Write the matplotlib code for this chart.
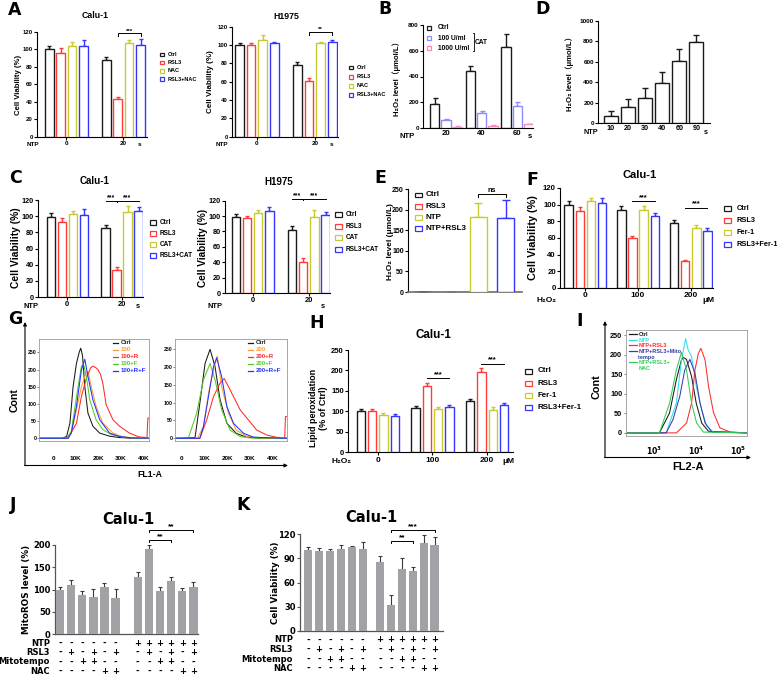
import numpy as np
import matplotlib
matplotlib.use('Agg')
import matplotlib.pyplot as plt
from matplotlib.patches import Rectangle
from matplotlib.transforms import blended_transform_factory

plt.rcParams['font.family'] = ['Liberation Sans', 'DejaVu Sans', 'Noto Sans CJK SC']
plt.rcParams['font.weight'] = 'bold'
plt.rcParams['mathtext.default'] = 'bf'

# ======================= DATA =======================
# Panel A
A_groups = ['0', '20']
A_series = ['Ctrl', 'RSL3', 'NAC', 'RSL3+NAC']
A_calu_mean = [[100, 88], [96, 43], [104, 107], [104, 105]]
A_calu_err = [[4, 3], [5, 2.5], [4, 4], [7, 6.5]]
A_h1975_mean = [[100, 78], [100, 61], [106, 102], [102.5, 103]]
A_h1975_err = [[1.8, 3], [2.5, 2.5], [5, 1.2], [1.1, 3]]
# Panel B
B_groups = ['20', '40', '60']
B_series = ['Ctrl', '100 U/ml', '1000 U/ml']
B_mean = [[188, 446, 632], [59, 116, 173], [10, 18, 28]]
B_err = [[44, 39, 96], [13, 18, 28], [5, 5, 6]]
# Panel D
D_times = ['10', '20', '30', '40', '60', '90']
D_mean = [68, 156, 243, 396, 607, 795]
D_err = [52, 81, 101, 104, 114, 72]
# Panel C
C_groups = ['0', '20']
C_series = ['Ctrl', 'RSL3', 'CAT', 'RSL3+CAT']
C_calu_mean = [[99, 85], [93, 33], [103, 105], [102, 106]]
C_calu_err = [[5, 3.7], [4.5, 4], [4, 7.4], [7.4, 5.4]]
C_h1975_mean = [[99, 82], [97, 40], [104, 99], [107, 101]]
C_h1975_err = [[4, 5], [2.6, 6], [3.4, 8.6], [4.7, 4.3]]
# Panel E
E_series = ['Ctrl', 'RSL3', 'NTP', 'NTP+RSL3']
E_mean = [1, 1, 181, 180]
E_err = [0, 0, 34, 43]
# Panel F
F_groups = ['0', '100', '200']
F_series = ['Ctrl', 'RSL3', 'Fer-1', 'RSL3+Fer-1']
F_mean = [[100, 94, 78], [93, 60, 33], [104, 94, 72], [102.5, 87, 69]]
F_err = [[4, 4.5, 3.4], [4.6, 2.8, 0.8], [4, 4, 3.2], [6, 3, 3.6]]
# Panel H
H_groups = ['0', '100', '200']
H_series = ['Ctrl', 'RSL3', 'Fer-1', 'RSL3+Fer-1']
H_mean = [[100, 108, 125], [101, 163, 197], [90, 106, 103], [88, 110, 116]]
H_err = [[6, 6, 6], [5, 7, 10], [5, 5, 8.6], [5, 5, 4]]
# Panel G (flow cytometry, FL1-A in thousands, counts)
G1_labels = ['Ctrl', '100', '100+R', '100+F', '100+R+F']
G1_x = [
    [-6.2, 4, 5.9, 7.4, 8.8, 10.3, 11.5, 12.2, 13.0, 14.0, 15.4, 17.6, 20.6, 25, 29.4, 35, 42.2],
    [-6.2, 5.9, 8.0, 10.3, 12.5, 14.5, 15.4, 16.9, 19.0, 22.0, 26.5, 30, 35, 42.2],
    [-6.2, 6.6, 10.3, 12.5, 14.7, 16.6, 17.6, 19.0, 19.9, 21.0, 22.0, 23.5, 26.5, 29.4, 33.8, 38.0, 41.6, 42.0, 42.2],
    [-6.2, 5.9, 8, 10.3, 12.5, 13.5, 14.7, 16.2, 19, 22, 26, 32, 42.2],
    [-6.2, 6.6, 8.0, 10.3, 12.5, 14.0, 15.4, 17.6, 20.6, 25, 29.4, 35, 42.2],
]
G1_y = [
    [0, 0, 5, 44, 150, 218, 250, 262, 240, 150, 73, 35, 15, 6, 2, 0, 0],
    [0, 0, 15, 83, 150, 190, 194, 150, 93, 44, 15, 6, 1, 0],
    [0, 0, 44, 122, 175, 205, 210, 205, 199, 185, 160, 97, 54, 35, 15, 4, 2, 59, 59],
    [0, 0, 20, 120, 210, 215, 180, 112, 54, 25, 10, 2, 0],
    [0, 0, 15, 93, 199, 230, 180, 112, 54, 15, 5, 1, 0],
]
G2_labels = ['Ctrl', '200', '200+R', '200+F', '200+R+F']
G2_x = [
    [-2.9, 5.9, 8.0, 10.3, 12.5, 14.7, 16.9, 19.9, 24, 28.5, 35, 46.3],
    [-2.9, 7, 9.6, 11.8, 14.0, 15.7, 17.6, 20.6, 24, 28.5, 35, 46.3],
    [-2.9, 8, 11, 14, 16.9, 18.7, 20.6, 22.8, 25.7, 29.4, 33, 37.5, 43, 45.3, 45.6, 46.3],
    [-2.9, 2.9, 6.6, 9.6, 12.5, 14.7, 17.6, 21.3, 25.7, 30, 46.3],
    [-2.9, 8, 9.6, 11.8, 14.0, 15.4, 17.6, 19.9, 22.8, 27.2, 31.6, 46.3],
]
G2_y = [
    [0, 2, 98, 210, 250, 201, 108, 42, 14, 3, 0, 0],
    [0, 0, 33, 126, 192, 231, 145, 70, 23, 6, 1, 0],
    [0, 0, 51, 117, 155, 168, 145, 117, 80, 51, 23, 9, 1, 1, 61, 61],
    [0, 0, 70, 164, 210, 164, 80, 23, 5, 1, 0],
    [0, 0, 33, 117, 201, 226, 173, 89, 42, 14, 3, 0],
]
# Panel I (FL2-A as log10 intensity, counts)
I_labels = ['Ctrl', 'NTP', 'NTP+RSL3', 'NTP+RSL3+Mito\ntempo', 'NTP+RSL3+\nNAC']
I_logx = [
    [2.34, 3.13, 3.37, 3.53, 3.65, 3.69, 3.77, 3.89, 4.0, 4.13, 4.29, 5.2],
    [2.34, 3.29, 3.53, 3.65, 3.75, 3.81, 3.89, 4.0, 4.13, 4.25, 4.41, 5.2],
    [2.34, 3.53, 3.77, 3.89, 3.97, 4.05, 4.11, 4.21, 4.29, 4.41, 4.56, 4.8, 5.2],
    [2.34, 3.29, 3.45, 3.61, 3.73, 3.85, 3.97, 4.09, 4.21, 4.37, 5.2],
    [2.34, 3.13, 3.37, 3.53, 3.65, 3.77, 3.89, 4.01, 4.17, 5.2],
]
I_y = [
    [0, 0, 51, 136, 186, 193, 188, 144, 76, 25, 4, 0],
    [0, 0, 76, 186, 241, 212, 195, 119, 59, 17, 2, 0],
    [0, 0, 25, 76, 161, 203, 216, 186, 119, 51, 13, 2, 0],
    [0, 0, 34, 93, 161, 188, 153, 76, 25, 2, 0],
    [0, 0, 76, 161, 206, 161, 76, 25, 2, 0],
]
# Panels J, K
J_mean = [100, 110, 88, 84, 105, 82, 128, 191, 98, 120, 98, 105]
J_err = [6, 12, 10, 17, 9, 19, 11, 9, 7, 9, 5, 13]
K_mean = [100, 99, 98.5, 101, 104, 102, 85, 32, 77, 74.5, 109, 107]
K_err = [3.5, 4, 3, 6, 1.5, 8, 8, 12, 13, 5, 10, 9]
row_names = ['NTP', 'RSL3', 'Mitotempo', 'NAC']
NTP_signs = ['-'] * 6 + ['+'] * 6
RSL3_signs = ['-', '+', '-', '+', '-', '+'] * 2
Mito_signs = ['-', '-', '+', '+', '-', '-'] * 2
NAC_signs = ['-', '-', '-', '-', '+', '+'] * 2

# ======================= STYLE =======================
BLK = '#1a1a1a'
RED = '#ff3b3b'
YEL = '#c9c930'
BLU = '#3434ff'
four_cols = [BLK, RED, YEL, BLU]

W, H = 777, 678
fig = plt.figure(figsize=(W / 100, H / 100), dpi=100)
ov = fig.add_axes([0, 0, 1, 1], zorder=20)
ov.set_xlim(0, W)
ov.set_ylim(H, 0)
ov.axis('off')


def pax(x0, yt, x1, yb):
    ax = fig.add_axes([x0 / W, 1 - yb / H, (x1 - x0) / W, (yb - yt) / H])
    ax.patch.set_alpha(0)
    return ax


def bar_panel(rect, means, errs, colors, step, xlim, ylim, yticks, xlabels,
              tfs, xfs, width=0.75, lw=1.0, cap=1.6, axlw=0.8):
    ax = pax(*rect)
    n = len(means[0])
    for s, (m, e, c) in enumerate(zip(means, errs, colors)):
        xs = np.arange(n) * step + s
        ax.bar(xs, m, width=width, facecolor='white', edgecolor=c, linewidth=lw, zorder=3)
        ax.errorbar(xs, m, yerr=[np.zeros(n), e], fmt='none', ecolor=c, elinewidth=lw,
                    capsize=cap, capthick=lw, zorder=2)
    ax.set_xlim(*xlim)
    ax.set_ylim(*ylim)
    ax.spines[['top', 'right']].set_visible(False)
    ax.spines[['left', 'bottom']].set_linewidth(axlw)
    ax.set_yticks(yticks)
    ax.tick_params(axis='y', length=2, width=axlw, labelsize=tfs, pad=1)
    if xlabels is not None:
        centers = np.arange(n) * step + (len(means) - 1) / 2
        ax.set_xticks(centers, xlabels)
        ax.tick_params(axis='x', length=2, width=axlw, labelsize=xfs, pad=1.2)
    else:
        ax.set_xticks([])
    return ax


def sig(ax, x1, x2, y, txt, fs, tick, lw=0.7):
    ax.plot([x1, x1, x2, x2], [y - tick, y, y, y - tick], color='black', lw=lw, clip_on=False)
    ax.text((x1 + x2) / 2, y, txt, ha='center', va='bottom', fontsize=fs, clip_on=False)


def box_legend(x, y0, dy, labels, colors, fs, bw, bh, tx, lw=0.9):
    for i, (lab, c) in enumerate(zip(labels, colors)):
        y = y0 + i * dy
        ov.add_patch(Rectangle((x, y - bh / 2), bw, bh, facecolor='white', edgecolor=c, lw=lw))
        ov.text(tx, y, lab, fontsize=fs, va='center', ha='left')


def otext(x, y, s, fs, rot=0, ha='center', va='center', **kw):
    ov.text(x, y, s, fontsize=fs, rotation=rot, ha=ha, va=va, **kw)


# ---------------- Panel A ----------------
axA1 = bar_panel((37, 31.7, 147, 136.7), A_calu_mean, A_calu_err, four_cols, 5,
                 (-1.08, 8.57), (0, 120), range(0, 121, 20), A_groups, 4.3, 4.6)
sig(axA1, 6, 8, 118, '***', 4.5, 3)
axA2 = bar_panel((232, 26.7, 338, 136.7), A_h1975_mean, A_h1975_err, four_cols, 5,
                 (-0.65, 8.5), (0, 120), range(0, 121, 20), A_groups, 4.3, 4.6)
sig(axA2, 6, 8, 114, '**', 4.5, 3)
otext(95, 15, 'Calu-1', 6.3)
otext(286, 16.5, 'H1975', 6.3)
otext(18.5, 85, 'Cell Viability (%)', 5.6, rot=90)
otext(211, 82, 'Cell Viability (%)', 5.8, rot=90)
otext(33, 144.5, 'NTP', 4.6)
otext(140, 144.5, 's', 4.6)
otext(222, 144.5, 'NTP', 4.6)
otext(331.5, 144.5, 's', 4.6)
box_legend(160, 54.3, 8.3, A_series, four_cols, 4.0, 4.3, 3.6, 168)
box_legend(348.5, 67.7, 9.1, A_series, four_cols, 4.0, 4.3, 3.6, 357)

# ---------------- Panel B ----------------
B_cols = [BLK, '#8c8cff', '#ff86c4']
axB = bar_panel((423, 25, 533, 128), B_mean, B_err, B_cols, 3.2,
                (-1.04, 8.8), (0, 800), range(0, 801, 200), B_groups, 4.5, 5.6,
                width=0.85, cap=1.8)
axB.tick_params(axis='x', length=0)
otext(397, 77, 'H₂O₂ level（μmol/L）', 5.6, rot=90)
otext(407, 136.5, 'NTP', 5.6)
otext(530, 136.5, 's', 5.6)
box_legend(426.5, 27.7, 10.3, B_series, B_cols, 4.8, 4.6, 4.0, 438)
ov.plot([472.5, 473.5, 473.5, 472.5], [32.5, 32.5, 50.5, 50.5], color='black', lw=0.6)
otext(475, 42.3, 'CAT', 4.8, ha='left')

# ---------------- Panel D ----------------
axD = bar_panel((598, 21, 710, 123), [D_mean], [D_err], [BLK], 1,
                (-0.76, 5.8), (0, 1000), range(0, 1001, 200), D_times, 4.6, 5.2,
                width=0.83, cap=2.2)
axD.tick_params(axis='x', length=0)
otext(570, 72, 'H₂O₂ level（μmol/L）', 5.6, rot=90)
otext(591, 132.5, 'NTP', 5.2)
otext(705.5, 132.5, 's', 5.2)

# ---------------- Panel C ----------------
axC1 = bar_panel((38, 200, 143, 297), C_calu_mean, C_calu_err, four_cols, 5,
                 (-1.15, 8.4), (0, 120), range(0, 121, 20), C_groups, 5.2, 5.4)
sig(axC1, 5, 6, 119, '***', 5, 0)
sig(axC1, 6, 8, 119, '***', 5, 0)
axC1.plot([6, 6], [117.5, 119], color='black', lw=0.7, clip_on=False)
axC2 = bar_panel((225, 200.7, 330, 293), C_h1975_mean, C_h1975_err, four_cols, 5,
                 (-0.96, 8.4), (0, 120), range(0, 121, 20), C_groups, 5.2, 5.4)
sig(axC2, 5, 6, 122, '***', 5, 0)
sig(axC2, 6, 8, 122, '***', 5, 0)
axC2.plot([6, 6], [120.5, 122], color='black', lw=0.7, clip_on=False)
otext(95, 181.5, 'Calu-1', 7)
otext(279, 182, 'H1975', 7)
otext(16.5, 248, 'Cell Viability (%)', 7.4, rot=90)
otext(202.5, 248, 'Cell Viability (%)', 7.2, rot=90)
otext(31.5, 306, 'NTP', 5.4)
otext(137.5, 306, 's', 5.4)
otext(215, 306, 'NTP', 5.4)
otext(322.5, 306, 's', 5.4)
box_legend(150, 222.3, 11.2, C_series, four_cols, 4.7, 6, 5, 160)
box_legend(335, 214.3, 11.8, C_series, four_cols, 4.7, 6.5, 5, 346)

# ---------------- Panel E ----------------
axE = bar_panel((408, 189, 522, 292), [[v] for v in E_mean], [[e] for e in E_err],
                four_cols, 1, (-0.55, 3.6), (0, 250), range(0, 251, 50), None, 5.0, 5.0,
                width=0.62, cap=2.6)
axE.spines['bottom'].set_color('#777777')
axE.spines['bottom'].set_linewidth(1.3)
sig(axE, 2, 3, 239, 'ns', 5.2, 8)
otext(390, 242, 'H₂O₂ level (μmol/L)', 6.0, rot=90)
box_legend(415, 195, 11.1, E_series, four_cols, 5.8, 6.6, 4.8, 426)

# ---------------- Panel F ----------------
axF = bar_panel((560, 188, 713, 288), F_mean, F_err, four_cols, 4.75,
                (-0.77, 13.0), (0, 120), range(0, 121, 20), F_groups, 5.6, 6.0)
sig(axF, 5.75, 7.75, 104.5, '***', 5.4, 0)
sig(axF, 10.5, 12.5, 96.5, '***', 5.4, 0)
otext(640, 175, 'Calu-1', 8)
otext(533.5, 238, 'Cell Viability (%)', 7.8, rot=90)
otext(546.5, 300, 'H₂O₂', 6.0)
otext(708.5, 300, 'μM', 6.0)
box_legend(724, 208.3, 12.0, F_series, four_cols, 5.3, 6.6, 5, 736.5)

# ---------------- Panel H ----------------
axH = bar_panel((348, 350, 513, 452.3), H_mean, H_err, four_cols, 4.85,
                (-1.15, 13.5), (0, 250), range(0, 251, 50), H_groups, 5.5, 6.0)
sig(axH, 5.85, 7.85, 182, '***', 5.4, 0)
sig(axH, 10.7, 12.7, 217, '***', 5.4, 0)
otext(433.5, 335, 'Calu-1', 8.4)
otext(313.5, 408, 'Lipid peroxidation', 6.5, rot=90)
otext(323.5, 408, '(% of Ctrl)', 6.5, rot=90)
otext(341.5, 461.5, 'H₂O₂', 6.0)
otext(508.5, 461.5, 'μM', 6.0)
box_legend(525, 371, 12.1, H_series, four_cols, 5.7, 6.6, 5, 538)

# ---------------- Panel G ----------------
G_cols = [BLK, '#ff9a33', '#ff2a2a', '#55cc22', '#2233ff']


def hist_box(rect, xs_list, ys_list, cols, xlim, ylim):
    ax = pax(*rect)
    for xs, ys, c in zip(xs_list, ys_list, cols):
        ax.plot(xs, ys, color=c, lw=0.75)
    ax.set_xlim(*xlim)
    ax.set_ylim(*ylim)
    for s in ax.spines.values():
        s.set_color('#9a9a9a')
        s.set_linewidth(0.6)
    ax.set_yticks(range(0, 251, 50))
    return ax


axG1 = hist_box((39.3, 339.3, 149, 441), G1_x, G1_y, G_cols, (-6.2, 42.5), (-8, 288))
axG2 = hist_box((175, 339.3, 287, 441), G2_x, G2_y, G_cols, (-2.9, 46.3), (-7.6, 278))
for ax in (axG1, axG2):
    ax.set_xticks(range(0, 41, 10), ['0', '10K', '20K', '30K', '40K'])
    ax.tick_params(axis='x', length=0, labelsize=4.6, pad=11)
    ax.tick_params(axis='y', length=1.2, width=0.5, labelsize=3.7, pad=0.6, color='#555555')
for x0, tx, labs in ((113, 120.5, G1_labels), (248.3, 256, G2_labels)):
    for i, (lab, c) in enumerate(zip(labs, G_cols)):
        y = 342.7 + i * 7.0
        ov.plot([x0, x0 + 5], [y, y], color=c, lw=0.9)
        otext(tx, y, lab, 4.4, ha='left', color=c)
ov.annotate('', xy=(25, 322), xytext=(25, 465.5),
            arrowprops=dict(arrowstyle='-|>', lw=0.8, color='black', mutation_scale=5,
                            shrinkA=0, shrinkB=0))
ov.annotate('', xy=(288, 465.5), xytext=(24.6, 465.5),
            arrowprops=dict(arrowstyle='-|>', lw=0.8, color='black', mutation_scale=5,
                            shrinkA=0, shrinkB=0))
otext(15, 400, 'Cont', 7.6, rot=90)
otext(150, 474.5, 'FL1-A', 6.3)

# ---------------- Panel I ----------------
I_cols = [BLK, '#33dde8', '#ff2a2a', '#3a3aa8', '#33cc55']
axI = hist_box((626, 330, 747, 436), [10 ** np.array(v) for v in I_logx], I_y, I_cols,
               (10 ** 2.34, 10 ** 5.2), (-8, 263))
axI.set_xscale('log')
axI.set_xlim(10 ** 2.34, 10 ** 5.2)
axI.set_xticks([1e3, 1e4, 1e5], ['$10^3$', '$10^4$', '$10^5$'])
axI.minorticks_off()
axI.tick_params(axis='x', length=0, labelsize=5.6, pad=6)
axI.tick_params(axis='y', length=1.2, width=0.5, labelsize=5.2, pad=1.5, color='#555555')
I_rows_y = [334, 339.5, 345, 350.8, 362.3]
for lab, c, y in zip(I_labels, I_cols, I_rows_y):
    ov.plot([629, 636.5], [y, y], color=c, lw=0.9)
    ov.text(638.3, y - 1.8, lab, fontsize=4.0, color=c, ha='left', va='top', linespacing=1.15)
ov.annotate('', xy=(605, 321), xytext=(605, 457.5),
            arrowprops=dict(arrowstyle='-|>', lw=0.8, color='black', mutation_scale=5,
                            shrinkA=0, shrinkB=0))
ov.annotate('', xy=(751, 457.5), xytext=(604.6, 457.5),
            arrowprops=dict(arrowstyle='-|>', lw=0.8, color='black', mutation_scale=5,
                            shrinkA=0, shrinkB=0))
otext(597, 387, 'Cont', 7.8, rot=90)
otext(688, 467, 'FL2-A', 8)

# ---------------- Panels J, K ----------------
DJ = ['DejaVu Sans', 'Noto Sans CJK SC']
table = [NTP_signs, RSL3_signs, Mito_signs, NAC_signs]


def jk_panel(rect, means, errs, step, xlim, ylim, yticks, ylab, ylab_x, row_y, label_x):
    ax = pax(*rect)
    xs = np.r_[np.arange(6), step + np.arange(6)]
    ax.bar(xs, means, width=0.76, color='#a2a2a6', zorder=3)
    ax.errorbar(xs, means, yerr=[np.zeros(len(xs)), errs], fmt='none', ecolor='#3a3a3a',
                elinewidth=0.8, capsize=1.5, capthick=0.8, zorder=2)
    ax.set_xlim(*xlim)
    ax.set_ylim(*ylim)
    ax.spines[['top', 'right']].set_visible(False)
    ax.spines[['left', 'bottom']].set_linewidth(0.9)
    ax.spines[['left', 'bottom']].set_color('#555555')
    ax.set_xticks([])
    ax.set_yticks(yticks)
    ax.tick_params(axis='y', length=2.2, width=0.8, color='#555555', labelsize=6, pad=1)
    for lab in ax.get_yticklabels():
        lab.set_fontfamily(DJ)
    tr = blended_transform_factory(ax.transData, ov.transData)
    for name, signs, y in zip(row_names, table, row_y):
        ov.text(label_x, y, name, fontsize=6, ha='right', va='center', family=DJ)
        for x, s in zip(xs, signs):
            ov.text(x, y, s, transform=tr, fontsize=6, ha='center', va='center', family=DJ)
    ov.text(ylab_x, (rect[1] + rect[3]) / 2, ylab, fontsize=6.3, rotation=90,
            ha='center', va='center', family=DJ)
    return ax


axJ = jk_panel((55, 545, 198.3, 634.3), J_mean, J_err, 7, (-0.45, 12.45), (0, 200),
               range(0, 201, 50), 'MitoROS level (%)', 27, [643, 652.3, 662, 671.5], 50)
sig(axJ, 8, 10, 211, '**', 6, 4)
sig(axJ, 8, 12, 234, '**', 6, 4)
axK = jk_panel((300, 534, 443.3, 631), K_mean, K_err, 6.6, (-0.75, 12.4), (0, 120),
               range(0, 121, 30), 'Cell Viability (%)', 276, [640, 649.3, 659, 668.5], 293)
sig(axK, 7.6, 9.6, 111, '**', 6, 2.5)
sig(axK, 7.6, 11.6, 125, '***', 6, 2.5)
ov.text(128, 520, 'Calu-1', fontsize=10.5, ha='center', va='center', family=DJ)
ov.text(371, 517, 'Calu-1', fontsize=10.5, ha='center', va='center', family=DJ)

# ---------------- Panel letters ----------------
for letter, x, y in [('A', 15, 10), ('B', 385, 9), ('D', 543, 9), ('C', 15.5, 178),
                     ('E', 380, 178), ('F', 532, 180), ('G', 15, 319), ('H', 316.5, 323.5),
                     ('I', 580, 321), ('J', 13, 505), ('K', 243, 505)]:
    ov.text(x, y, letter, fontsize=12.5, ha='center', va='center', family=DJ)

fig.savefig('out.png', dpi=100)
